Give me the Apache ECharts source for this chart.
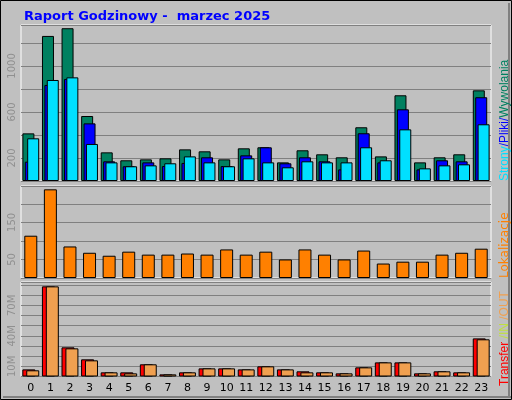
<!DOCTYPE html>
<html>
<head>
<meta charset="utf-8">
<script src="https://cdn.jsdelivr.net/npm/echarts@6/dist/echarts.min.js"></script>
<style>body{margin:0}</style>
</head>
<body>
<div id="main" style="width:512px;height:400px;"></div>
<script>
var hours = ['0','1','2','3','4','5','6','7','8','9','10','11','12','13','14','15','16','17','18','19','20','21','22','23'];
var hits  = [414,1261,1328,565,249,180,188,197,275,258,188,284,293,162,267,232,206,467,214,745,162,206,232,788];
var files = [168,835,887,501,171,128,162,130,157,206,130,223,293,154,206,171,101,415,162,623,101,180,171,728];
var pages = [371,878,901,322,162,128,136,154,214,162,128,197,162,119,171,162,162,293,180,449,110,136,145,493];
var sites = [114,239,85,68,60,71,63,63,66,63,77,63,71,50,77,63,50,74,39,44,44,63,68,79];
var kbTotal = [7.0,88.7,28.7,16.9,4.1,4.1,12,2.1,4.1,8,8,7,10,7,5.1,4.1,3.1,9,13.9,13.9,3.1,5.1,4.1,37.5];
var kbOut   = [6.1,88.7,27.7,15.9,4.1,3.1,12,2.1,4.1,8,8,7,10,7,4.1,4.1,3.1,9,13.9,13.9,3.1,5.1,4.1,36.6];

var myChart = echarts.init(document.getElementById('main'));
var bd = {borderColor:'#000', borderWidth:1};
function only(list){ return function(v){ return list.indexOf(v) >= 0 ? String(v) : ''; }; }
function yax(idx, max, interval, fmt){
    return {gridIndex:idx, min:0, max:max, interval:interval,
        axisLine:{show:false}, axisTick:{show:false},
        splitLine:{lineStyle:{color:'#808080', width:1}},
        axisLabel:{rotate:90, color:'#909090', fontSize:10, fontFamily:'DejaVu Sans', margin:4, formatter:fmt}};
}
function xax(idx, show){
    return {type:'category', gridIndex:idx, data:hours, axisLine:{show:false}, axisTick:{show:false},
        axisLabel:{show:show, color:'#000', fontSize:11, fontFamily:'DejaVu Sans', margin:6}};
}
function grid(top, h){
    return {left:21, right:21, top:top, height:h, show:true, backgroundColor:'#c0c0c0', borderColor:'#fff', borderWidth:1};
}
var option = {
    backgroundColor:'#c0c0c0',
    animation:false,
    title:{text:'Raport Godzinowy -  marzec 2025', left:19, top:5,
        textStyle:{color:'#0000ff', fontSize:13, fontWeight:'bold', fontFamily:'DejaVu Sans'}},
    grid:[grid(25,156), grid(186,92), grid(282,94.5)],
    xAxis:[xax(0,false), xax(1,false), xax(2,true)],
    yAxis:[yax(0,1356,200,only([200,600,1000])),
           yax(1,248,50,only([50,150])),
           yax(2,93,10,function(v){ return [10,40,70].indexOf(v)>=0 ? v+'M' : ''; })],
    series:[
        {type:'bar', xAxisIndex:0, yAxisIndex:0, data:hits, barWidth:12, barGap:'-80%', itemStyle:Object.assign({color:'#008060'},bd)},
        {type:'bar', xAxisIndex:0, yAxisIndex:0, data:files, barWidth:12, barGap:'-80%', itemStyle:Object.assign({color:'#0000ff'},bd)},
        {type:'bar', xAxisIndex:0, yAxisIndex:0, data:pages, barWidth:12, barGap:'-80%', itemStyle:Object.assign({color:'#00e0ff'},bd)},
        {type:'bar', xAxisIndex:1, yAxisIndex:1, data:sites, barWidth:13, itemStyle:Object.assign({color:'#ff8000'},bd)},
        {type:'bar', xAxisIndex:2, yAxisIndex:2, data:kbTotal, barWidth:13, barGap:'-70%', itemStyle:Object.assign({color:'#ff0000'},bd)},
        {type:'bar', xAxisIndex:2, yAxisIndex:2, data:kbOut, barWidth:13, barGap:'-70%', itemStyle:Object.assign({color:'#f0a050'},bd)}
    ],
    graphic:[
        {type:'rect', shape:{x:0.5,y:0.5,width:511,height:399}, style:{fill:'none', stroke:'#000', lineWidth:1}, z:100},
        {type:'rect', shape:{x:3,y:396,width:508,height:2}, style:{fill:'#808080'}, z:100},
        {type:'rect', shape:{x:508,y:3,width:2,height:395}, style:{fill:'#808080'}, z:100},
        {type:'text', x:505, y:181, rotation:Math.PI/2, z:100,
            style:{text:'{c|Strony}{b|/Pliki/}{g|Wywolania}', textAlign:'left', textVerticalAlign:'middle', fontSize:12, fontFamily:'DejaVu Sans',
                rich:{c:{fill:'#00e0ff',fontSize:12},b:{fill:'#0000ff',fontSize:12},g:{fill:'#008060',fontSize:12}}}},
        {type:'text', x:505, y:278, rotation:Math.PI/2, z:100,
            style:{text:'Lokalizacje', fill:'#ff8000', textAlign:'left', textVerticalAlign:'middle', fontSize:12, fontFamily:'DejaVu Sans'}},
        {type:'text', x:505, y:386, rotation:Math.PI/2, z:100,
            style:{text:'{r|Transfer}{y| /IN}{o| /OUT}', textAlign:'left', textVerticalAlign:'middle', fontSize:12, fontFamily:'DejaVu Sans',
                rich:{r:{fill:'#ff0000',fontSize:12},y:{fill:'#c0e040',fontSize:12},o:{fill:'#f0a050',fontSize:12}}}}
    ]
};
myChart.setOption(option);
</script>
</body>
</html>
